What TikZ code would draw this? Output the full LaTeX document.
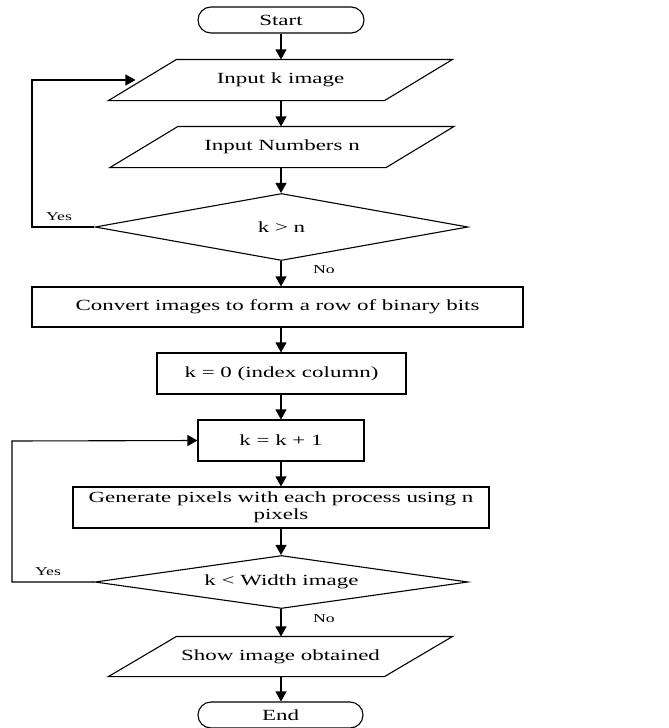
\documentclass[tikz,border=0pt]{standalone}
\usepackage{fontspec}
\setmainfont{Liberation Serif}[FakeStretch=1.48]
\usetikzlibrary{shapes.geometric,shapes.misc,arrows.meta}
\begin{document}
\begin{tikzpicture}[x=1pt,y=-1pt,
  line width=1.1pt,
  every node/.style={font=\fontsize{15.5}{17}\selectfont, inner sep=0pt},
  term/.style={draw, rounded rectangle, minimum height=26pt},
  io/.style={rectangle, minimum width=343pt, minimum height=40pt},
  proc/.style={draw, rectangle, minimum height=41pt},
  dec/.style={draw, diamond, aspect=7, minimum width=373pt},
  lbl/.style={font=\fontsize{12}{14}\selectfont},
  arr/.style={-{Triangle[length=10pt,width=11pt]}}
]
\useasboundingbox (0,0) rectangle (669,728);
\node[term, minimum width=166pt] (start) at (281,20) {Start};
\node[io] (p1) at (280.5,80) {Input k image};
\node[io] (p2) at (282,147) {Input Numbers n};
\node[dec, minimum height=67pt] (d1) at (281.5,227) {k > n};
\node[proc, minimum width=491pt, minimum height=40pt] (b1) at (277.5,307) {Convert images to form a row of binary bits};
\node[proc, minimum width=249pt] (b2) at (281.5,373.5) {k = 0 (index column)};
\node[proc, minimum width=166pt] (b3) at (281,440.5) {k = k + 1};
\node[proc, minimum width=416pt, align=center] (b4) at (281,507.5) {Generate pixels with each process using n\\pixels};
\node[dec, minimum height=53pt] (d2) at (281.5,582) {k < Width image};
\node[io, minimum height=39pt] (p3) at (280.5,656.5) {Show image obtained};
\node[term, minimum width=165pt] (end) at (280.5,715) {End};

\foreach \n in {p1,p2,p3}
  \draw ([xshift=68pt]\n.north west) -- (\n.north east) -- ([xshift=-68pt]\n.south east) -- (\n.south west) -- cycle;

\coordinate (c1) at (32,80);
\coordinate (c2) at (12,441);

\node[lbl] (y1) at (59,217) {Yes};
\node[lbl] (n1) at (324,270) {No};
\node[lbl] (y2) at (48,572) {Yes};
\node[lbl] (n2) at (324,619) {No};

\draw[arr] (start.south) -- (start.south |- p1.north);
\draw[arr] (p1.south -| start.south) -- (start.south |- p2.north);
\draw[arr] (p2.south -| start.south) -- (start.south |- d1.north);
\draw[arr] (d1.south -| start.south) -- (start.south |- b1.north);
\draw[arr] (b1.south -| start.south) -- (start.south |- b2.north);
\draw[arr] (b2.south -| start.south) -- (start.south |- b3.north);
\draw[arr] (b3.south -| start.south) -- (start.south |- b4.north);
\draw[arr] (b4.south -| start.south) -- (start.south |- d2.north);
\draw[arr] (d2.south -| start.south) -- (start.south |- p3.north);
\draw[arr] (p3.south -| start.south) -- (start.south |- end.north);
\draw[arr] (d1.west) -| (c1) -- ([xshift=27pt]p1.west);
\draw[arr] (d2.west) -| (c2) -- (b3.west);
\end{tikzpicture}
\end{document}
